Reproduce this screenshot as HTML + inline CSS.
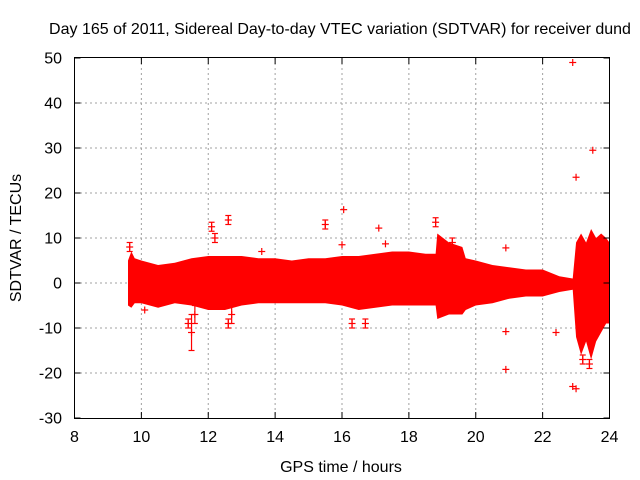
<!DOCTYPE html>
<html><head><meta charset="utf-8"><style>
body{margin:0;background:#fff;}
svg{display:block;font-family:"Liberation Sans",sans-serif;}
</style></head><body>
<svg id="chart" width="640" height="480" viewBox="0 0 640 480">
<text x="340" y="34" font-size="16" text-anchor="middle">Day 165 of 2011, Sidereal Day-to-day VTEC variation (SDTVAR) for receiver dund</text>
<text x="341" y="472" font-size="16" text-anchor="middle">GPS time / hours</text>
<text transform="translate(21,238) rotate(-90)" font-size="16" text-anchor="middle">SDTVAR / TECUs</text>
<g id="grid"></g>
<g id="band"></g>
<g id="outliers"></g>
<rect x="74.5" y="57.5" width="535" height="361" fill="none" stroke="#000" stroke-width="1"/>
<g id="ticks"></g>
</svg>
<script>
const xTicks=[8,10,12,14,16,18,20,22,24];
const yTicks=[-30,-20,-10,0,10,20,30,40,50];
const bandT=[9.6,9.7,9.8,10,10.5,11,11.5,12,12.5,13,13.5,14,14.5,15,15.5,16,16.5,17,17.5,18,18.5,18.8,18.85,19.2,19.6,19.7,20,20.5,21,21.5,22,22.5,22.9,23.0,23.15,23.3,23.45,23.6,23.75,23.9,24];
const bandUp=[5,7,5.5,5,4,4.5,5.5,6,6,6,5.5,5.5,5,5.5,5.5,6,6,6.5,7,7,6.5,6.5,11,9,8,5.5,5,4,3.5,3,3,1.5,1,9,11,9,12,10,11,10,9];
const bandLo=[-5,-5.5,-4.5,-4.5,-5.5,-4.5,-5,-6,-6,-5,-4.5,-4.5,-4.5,-4.5,-4.5,-5,-6,-5.5,-5,-5,-5,-5,-8,-7,-7,-6,-5,-4.5,-3.5,-3,-3,-2,-1.5,-12,-16,-13,-17,-13,-11,-9,-9];
const outT=[22.9,23.5,23.0,16.05,17.1,17.3,20.9,20.9,20.9,22.4,22.9,23.0,11.5,15.5,12.6,12.1,12.2,16.0,10.1,11.4,18.8,23.2,23.4,9.65,12.6,16.3,16.7,13.6,11.6,12.7,19.3];
const outY=[49,29.5,23.5,16.3,12.2,8.7,7.8,-10.8,-19.2,-11,-23,-23.5,-11,13,14,12.5,10,8.5,-6,-9,13.5,-17,-18,8,-9,-9,-9,7,-7,-7,9];
const outErr=[0,0,0,0,0,0,0,0,0,0,0,0,4,1,1,1,1,0,0,1,1,1,1,1,1,1,1,0,2,2,1];
const X=t=>74.5+(t-8)*535/16;
const Y=v=>283-v*4.5;
const NS='http://www.w3.org/2000/svg';
function mk(tag,attrs,parent){const e=document.createElementNS(NS,tag);for(const k in attrs)e.setAttribute(k,attrs[k]);parent.appendChild(e);return e;}
const grid=document.getElementById('grid'),ticks=document.getElementById('ticks');
xTicks.forEach(t=>{
 const x=X(t);
 if(t>8&&t<24){const g=mk('line',{x1:x,x2:x,y1:58,y2:418,stroke:'#a0a0a0','stroke-dasharray':'2,3'},grid);
 
 }
 mk('line',{x1:x,x2:x,y1:418,y2:412,stroke:'#000'},ticks);
 mk('line',{x1:x,x2:x,y1:58,y2:64,stroke:'#000'},ticks);
 const l=mk('text',{x:x,y:442,'font-size':16,'text-anchor':'middle'},ticks);l.textContent=t;
 
 
});
yTicks.forEach(v=>{
 const y=Y(v);
 if(v>-30&&v<50){const g=mk('line',{x1:75,x2:609,y1:y,y2:y,stroke:'#a0a0a0','stroke-dasharray':'2,3'},grid);
 
 }
 mk('line',{x1:74.5,x2:80.5,y1:y,y2:y,stroke:'#000'},ticks);
 mk('line',{x1:603.5,x2:609.5,y1:y,y2:y,stroke:'#000'},ticks);
 const l=mk('text',{x:62,y:y+5.5,'font-size':16,'text-anchor':'end'},ticks);l.textContent=v;
 
 
});
const band=document.getElementById('band');
let d='M'+bandT.map((t,i)=>X(t)+','+Y(bandUp[i])).join('L');
for(let i=bandT.length-1;i>=0;i--)d+='L'+X(bandT[i])+','+Y(bandLo[i]);
const p=mk('path',{d:d+'Z',fill:'#ff0000'},band);


const og=document.getElementById('outliers');
outT.forEach((t,i)=>{
 const x=X(t),y=Y(outY[i]);
 const g=mk('g',{stroke:'#ff0000','stroke-width':1.2},og);
 
 
 mk('line',{x1:x-3.5,x2:x+3.5,y1:y,y2:y},g);
 mk('line',{x1:x,x2:x,y1:y-3.5,y2:y+3.5},g);
 if(outErr[i]>0){const e=outErr[i]*4.5;
  mk('line',{x1:x,x2:x,y1:y-e,y2:y+e},g);
  mk('line',{x1:x-3,x2:x+3,y1:y-e,y2:y-e},g);
  mk('line',{x1:x-3,x2:x+3,y1:y+e,y2:y+e},g);}
});
</script>
</body></html>
